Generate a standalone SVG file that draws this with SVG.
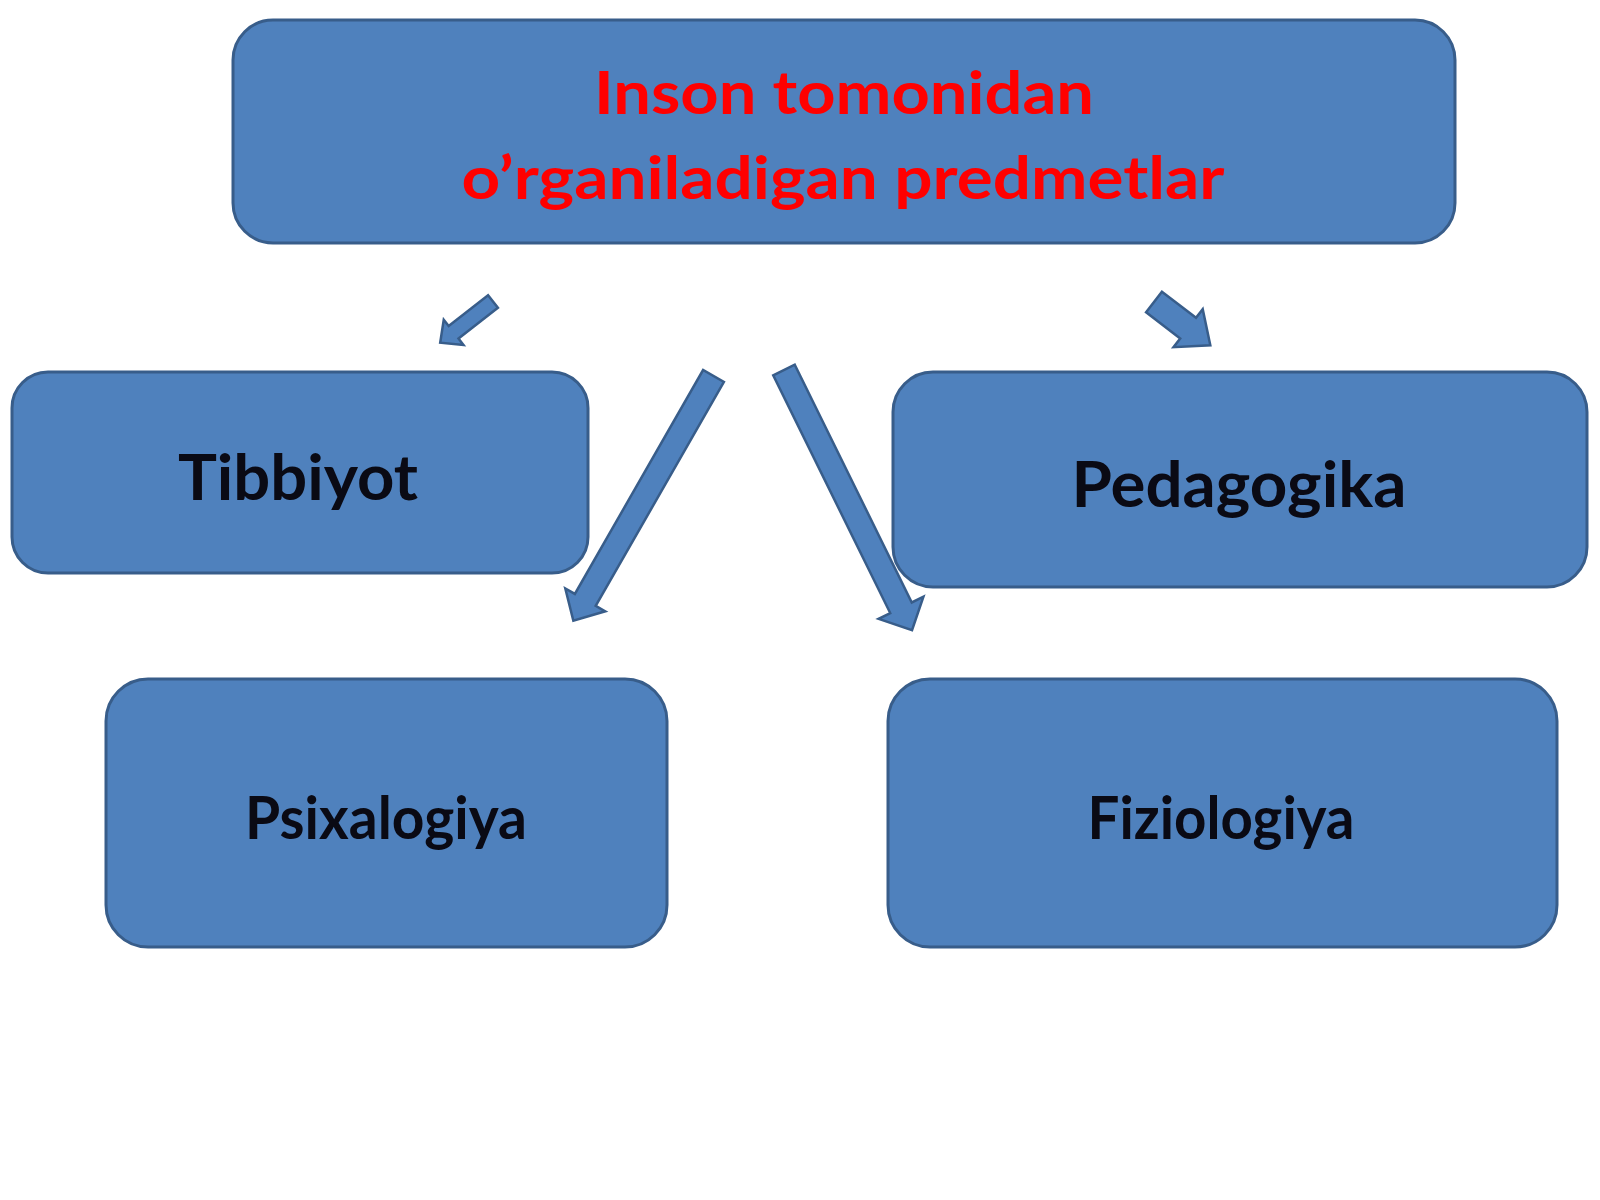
<svg xmlns="http://www.w3.org/2000/svg" width="1600" height="1200" viewBox="0 0 1600 1200">
<style>
.box{fill:#4F81BD;stroke:#385D8A;stroke-width:3}
.arr{fill:#4F81BD;stroke:#385D8A;stroke-width:2.5;stroke-linejoin:miter}
.lbl{font-family:Lato,"Open Sans","Liberation Sans",sans-serif;font-weight:bold;fill:#0a0a14;text-anchor:middle}
.ttl{font-family:Lato,"Open Sans","Liberation Sans",sans-serif;font-weight:bold;fill:#FF0000;text-anchor:middle;font-size:60px}
</style>
<rect width="1600" height="1200" fill="#ffffff"/>
<g id="node-root">
<rect class="box" x="233" y="20" width="1222" height="223" rx="40"/>
<text class="ttl" x="844" y="114" textLength="500" lengthAdjust="spacingAndGlyphs">Inson tomonidan</text>
<text class="ttl" x="843" y="199" textLength="763" lengthAdjust="spacingAndGlyphs">o’rganiladigan predmetlar</text>
</g>
<g id="node-tibbiyot">
<rect class="box" x="12" y="372" width="576" height="201" rx="36"/>
<text class="lbl" x="298" y="500" font-size="64" textLength="240" lengthAdjust="spacingAndGlyphs">Tibbiyot</text>
</g>
<g id="node-pedagogika">
<rect class="box" x="893" y="372" width="694" height="215" rx="40"/>
<text class="lbl" x="1239" y="507" font-size="64" textLength="335" lengthAdjust="spacingAndGlyphs">Pedagogika</text>
</g>
<g id="node-psixalogiya">
<rect class="box" x="106" y="679" width="561" height="268" rx="42"/>
<text class="lbl" x="386" y="839" font-size="60" textLength="282" lengthAdjust="spacingAndGlyphs">Psixalogiya</text>
</g>
<g id="node-fiziologiya">
<rect class="box" x="888" y="679" width="669" height="268" rx="42"/>
<text class="lbl" x="1221" y="839" font-size="60" textLength="267" lengthAdjust="spacingAndGlyphs">Fiziologiya</text>
</g>
<g id="connectors">
<path class="arr" transform="translate(493,301.5) rotate(142)" d="M0,-8 L50,-8 L50,-16 L67,0 L50,16 L50,8 L0,8 Z"/>
<path class="arr" transform="translate(1154,302) rotate(37.5)" d="M0,-13 L43,-13 L43,-24 L71,0 L43,24 L43,13 L0,13 Z"/>
<path class="arr" transform="translate(713.5,376) rotate(119.8)" d="M0,-12 L258,-12 L258,-23 L282,0 L258,23 L258,12 L0,12 Z"/>
<path class="arr" transform="translate(784,370) rotate(63.8)" d="M0,-12 L265,-12 L265,-25 L290,0 L265,25 L265,12 L0,12 Z"/>
</g>
</svg>
